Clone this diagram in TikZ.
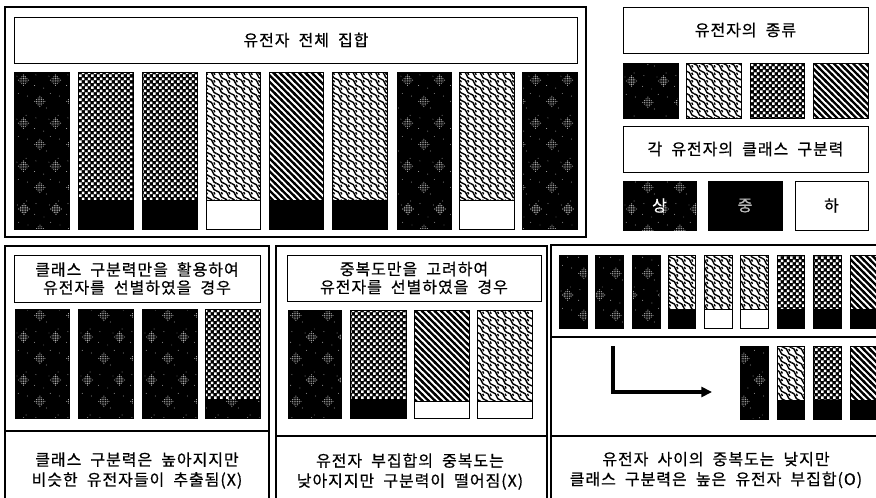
\documentclass[tikz,border=0pt]{standalone}
\usepackage{fontspec}
\newfontfamily\kr[WordSpace=2,LetterSpace=6,FakeBold=0.6]{Noto Sans CJK KR}
\usetikzlibrary{patterns,arrows.meta}

% diagonal "\" stripes
\pgfdeclarepatternformonly{gdiag}{\pgfqpoint{-1pt}{-1pt}}{\pgfqpoint{5.8pt}{5.8pt}}{\pgfqpoint{4.8pt}{4.8pt}}{%
  \pgfsetlinewidth{1.75pt}%
  \pgfpathmoveto{\pgfqpoint{-1pt}{5.8pt}}\pgfpathlineto{\pgfqpoint{5.8pt}{-1pt}}%
  \pgfusepath{stroke}}
% wavy scales: gently wiggling "\" lines with hooks
\pgfdeclarepatternformonly{gwavy}{\pgfqpoint{-1.2pt}{-1.2pt}}{\pgfqpoint{6.8pt}{6.8pt}}{\pgfqpoint{5.6pt}{5.6pt}}{%
  \pgfsetlinewidth{1.05pt}%
  \pgfpathmoveto{\pgfqpoint{0pt}{5.6pt}}%
  \pgfpathcurveto{\pgfqpoint{1.7pt}{5.5pt}}{\pgfqpoint{2.3pt}{4.1pt}}{\pgfqpoint{2.8pt}{2.8pt}}%
  \pgfpathcurveto{\pgfqpoint{3.3pt}{1.5pt}}{\pgfqpoint{3.9pt}{0.1pt}}{\pgfqpoint{5.6pt}{0pt}}%
  \pgfusepath{stroke}%
  \pgfpathmoveto{\pgfqpoint{3.6pt}{4.6pt}}%
  \pgfpathcurveto{\pgfqpoint{4.4pt}{4.4pt}}{\pgfqpoint{4.6pt}{3.6pt}}{\pgfqpoint{4.4pt}{3.0pt}}%
  \pgfusepath{stroke}}
% checker squares
\pgfdeclarepatternformonly{gcheck}{\pgfqpoint{0pt}{0pt}}{\pgfqpoint{4.6pt}{4.6pt}}{\pgfqpoint{4.6pt}{4.6pt}}{%
  \pgfpathrectangle{\pgfqpoint{0.1pt}{0.1pt}}{\pgfqpoint{2.1pt}{2.1pt}}%
  \pgfpathrectangle{\pgfqpoint{2.4pt}{2.4pt}}{\pgfqpoint{2.1pt}{2.1pt}}%
  \pgfusepath{fill}}
% speckle clusters
\pgfdeclarepatternformonly{gspeck}{\pgfqpoint{0pt}{0pt}}{\pgfqpoint{24pt}{32pt}}{\pgfqpoint{24pt}{32pt}}{%
  \foreach \cx/\cy in {6/8,18/24}{%
    \foreach \dx/\dy in {0/0,1.3/0,-1.3/0,0/1.3,0/-1.3,2.6/0,-2.6/0,0/2.6,0/-2.6,1.3/1.3,-1.3/1.3,1.3/-1.3,-1.3/-1.3,
        2.6/1.3,-2.6/1.3,2.6/-1.3,-2.6/-1.3,1.3/2.6,-1.3/2.6,1.3/-2.6,-1.3/-2.6,3.9/0,-3.9/0,0/3.9,0/-3.9}{%
      \pgfpathcircle{\pgfpoint{(\cx+\dx)*1pt}{(\cy+\dy)*1pt}}{0.42pt}}}%
  \foreach \px/\py in {2/20,11/3,14/14,21/12,3/28,9/18,20/30,13/27}{%
      \pgfpathcircle{\pgfpoint{\px*1pt}{\py*1pt}}{0.35pt}}%
  \pgfusepath{fill}}

\tikzset{
  spk/.style={fill=black, postaction={pattern=gspeck, pattern color=gray!55}},
  chk/.style={fill=black, postaction={pattern=gcheck, pattern color=white}},
  wav/.style={fill=white, postaction={pattern=gwavy}},
  dia/.style={fill=white, postaction={pattern=gdiag}},
  blk/.style={fill=black},
  wht/.style={fill=white, draw=black, line width=0.6pt},
  barline/.style={draw=black, line width=0.6pt},
  frame/.style={draw=black, line width=1.1pt},
  box/.style={draw=black, line width=0.7pt, fill=white, inner sep=0pt, align=center,
    font=\kr\fontsize{12}{13.5}\selectfont},
  ptext/.style={inner sep=0pt, align=center, font=\kr\fontsize{12}{15}\selectfont},
  bigarrow/.style={line width=2.6pt, -{Triangle[length=8pt,width=7.5pt]}},
}
\newcommand\gbar[7]{%
  \path[#6] (#1,#2) rectangle ({#1+#3},#4);
  \path[#7] (#1,#4) rectangle ({#1+#3},#5);
  \draw[barline] (#1,#2) rectangle ({#1+#3},#5);}
\newcommand\gsq[4]{%
  \path[#4] (#1,#2) rectangle ({#1+#3},{#2+55});
  \draw[barline] (#1,#2) rectangle ({#1+#3},{#2+55});}

\begin{document}
\begin{tikzpicture}[x=0.75pt,y=-0.75pt]
\useasboundingbox (0,0) rectangle (876,497);
\clip (0,0) rectangle (876,497);
\fill[white] (0,0) rectangle (876,497);

% ---------- top-left panel ----------
\draw[frame] (5,7) rectangle (586,237);
\node[box, minimum width=563*0.75pt, minimum height=46*0.75pt] (all) at (295.5,40) {};
\node[font=\kr\fontsize{12}{13.5}\selectfont, inner sep=0pt] (allt) at (306,40) {유전자 전체 집합};
\gbar{14}{72}{55}{200}{229}{spk}{spk}
\gbar{78}{72}{55}{200}{229}{chk}{blk}
\gbar{142}{72}{55}{200}{229}{chk}{blk}
\gbar{206}{72}{54}{200}{229}{wav}{wht}
\gbar{269}{72}{54}{200}{229}{dia}{blk}
\gbar{332}{72}{55}{200}{229}{wav}{blk}
\gbar{397}{72}{54}{200}{229}{spk}{spk}
\gbar{459}{72}{55}{200}{229}{wav}{wht}
\gbar{522}{72}{55}{200}{229}{spk}{spk}

% ---------- top-right legend ----------
\node[box, minimum width=245*0.75pt, minimum height=46*0.75pt] (kinds) at (745.5,30) {유전자의 종류};
\gsq{623}{63}{55}{spk}
\gsq{686}{63}{55}{wav}
\gsq{750}{63}{54}{chk}
\gsq{813}{63}{55}{dia}
\node[box, minimum width=245*0.75pt, minimum height=46*0.75pt] (power) at (745.5,149) {각 유전자의 클래스 구분력};
\node[box, spk, text=white, minimum width=73*0.75pt, minimum height=49*0.75pt] (hi) at (659.5,205.5) {상};
\node[box, fill=black, text=gray!55, minimum width=74*0.75pt, minimum height=49*0.75pt] (mid) at (745,205.5) {중};
\node[box, minimum width=73*0.75pt, minimum height=49*0.75pt] (lo) at (831.5,205.5) {하};

% ---------- bottom-left panel ----------
\draw[frame] (5,510) -- (5,246) -- (269,246) -- (269,510);
\draw[frame] (5,431) -- (269,431);
\node[box, minimum width=246*0.75pt, minimum height=47*0.75pt] (c1) at (137,278.5) {클래스 구분력만을 활용하여\\유전자를 선별하였을 경우};
\gbar{15}{309}{54}{399}{418}{spk}{spk}
\gbar{78}{309}{55}{399}{418}{spk}{spk}
\gbar{142}{309}{55}{399}{418}{spk}{spk}
\gbar{205}{309}{55}{399}{418}{chk}{spk}
\node[ptext] (r1) at (137,470.5) {클래스 구분력은 높아지지만\\비슷한 유전자들이 추출됨(X)};

% ---------- bottom-middle panel ----------
\draw[frame] (276,510) -- (276,246) -- (547,246) -- (547,510);
\draw[frame] (276,436) -- (547,436);
\node[box, minimum width=254*0.75pt, minimum height=46*0.75pt] (c2) at (414,278) {중복도만을 고려하여\\유전자를 선별하였을 경우};
\gbar{288}{310}{53}{399}{418}{spk}{spk}
\gbar{350}{310}{56}{399}{418}{chk}{blk}
\gbar{414}{310}{55}{401}{418}{dia}{wht}
\gbar{477}{310}{55}{401}{418}{wav}{wht}
\node[ptext] (r2) at (410,471.5) {유전자 부집합의 중복도는\\낮아지지만 구분력이 떨어짐(X)};

% ---------- bottom-right panel ----------
\draw[frame] (551,510) -- (551,245) -- (890,245);
\draw[frame] (551,337) -- (890,337);
\draw[frame] (551,436) -- (890,436);
\gbar{559}{255}{28}{309}{328}{spk}{spk}
\gbar{595}{255}{28}{309}{328}{spk}{spk}
\gbar{632}{255}{28}{309}{328}{spk}{spk}
\gbar{668}{255}{27}{309}{328}{wav}{blk}
\gbar{704}{255}{28}{309}{328}{wav}{wht}
\gbar{740}{255}{28}{309}{328}{wav}{wht}
\gbar{777}{255}{27}{309}{328}{chk}{blk}
\gbar{813}{255}{28}{309}{328}{chk}{blk}
\gbar{850}{255}{28}{309}{328}{dia}{blk}
\coordinate (as) at (613,346);
\coordinate (ae) at (712,392);
\draw[bigarrow] (as) |- (ae);
\gbar{740}{346}{28}{400}{419}{spk}{spk}
\gbar{777}{346}{27}{400}{419}{wav}{blk}
\gbar{813}{346}{28}{400}{419}{chk}{blk}
\gbar{850}{346}{28}{400}{419}{dia}{blk}
\node[ptext] (r3) at (716,470) {유전자 사이의 중복도는 낮지만\\클래스 구분력은 높은 유전자 부집합(O)};
\end{tikzpicture}
\end{document}
